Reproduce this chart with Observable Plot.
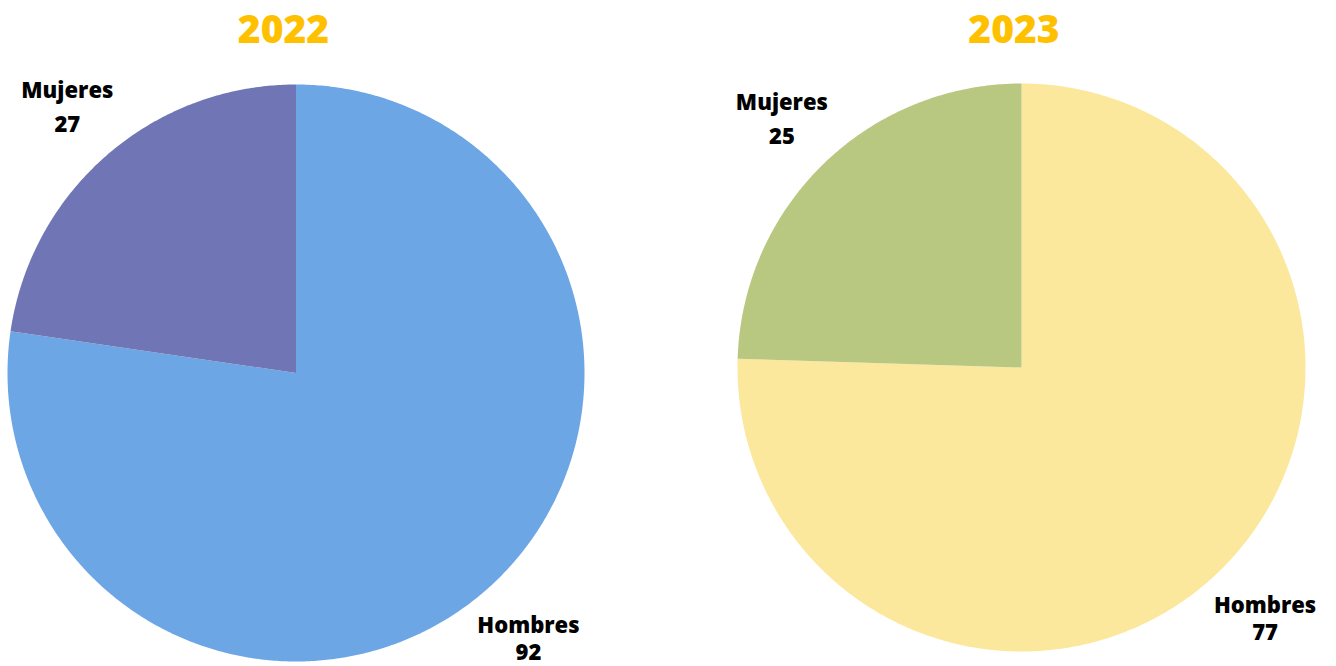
<!DOCTYPE html>
<html>
<head>
<meta charset="utf-8">
<script src="https://cdn.jsdelivr.net/npm/d3@7"></script>
<script src="https://cdn.jsdelivr.net/npm/@observablehq/plot@0.6"></script>
<style>
  body { margin: 0; background: #fff; font-family: "Open Sans", sans-serif; }
  #wrap { position: relative; width: 1336px; height: 666px; overflow: hidden; }
  .title { position: absolute; top: 1px; font-family: "Open Sans", sans-serif; font-weight: 800; font-size: 39px; line-height: normal; color: #FFC000; transform: translateX(-50%); white-space: nowrap; }
  .panel { position: absolute; top: 0; }
</style>
</head>
<body>
<div id="wrap"></div>
<script>
// ---- data ----
const years = ["2022", "2023"];
const categories = ["Hombres", "Mujeres"];
const values2022 = [92, 27];
const values2023 = [77, 25];

// ---- styles ----
const colors2022 = ["#6CA6E4", "#7076B5"];
const colors2023 = ["#FBE89C", "#B9C880"];

const wrap = document.getElementById("wrap");

function slices(values) {
  const arcs = d3.pie().sort(null).startAngle(0).endAngle(2 * Math.PI)(values);
  const pts = [];
  const labels = [];
  arcs.forEach((a, i) => {
    const cat = categories[i];
    pts.push({cat, x: 0, y: 0});
    const n = Math.max(2, Math.ceil((a.endAngle - a.startAngle) / (Math.PI / 360)));
    for (let k = 0; k <= n; k++) {
      const t = a.startAngle + (a.endAngle - a.startAngle) * k / n;
      pts.push({cat, x: Math.sin(t), y: Math.cos(t)});
    }
    const mid = (a.startAngle + a.endAngle) / 2;
    labels.push({cat, value: values[i], sx: Math.sin(mid), sy: Math.cos(mid)});
  });
  return {pts, labels};
}

function piePanel(values, colors, m, hombresDy) {
  const {pts, labels} = slices(values);
  const textOpts = {
    text: d => `${d.cat}\n${d.value}`,
    fontSize: 22, fontWeight: 800, fontFamily: "Open Sans, sans-serif",
    fill: "#000", textAnchor: "middle", lineAnchor: "middle"
  };
  return Plot.plot({
    width: 668, height: 666,
    marginLeft: m.left, marginRight: m.right, marginTop: m.top, marginBottom: m.bottom,
    x: {domain: [-1, 1], axis: null},
    y: {domain: [-1, 1], axis: null},
    color: {domain: categories, range: colors},
    style: {background: "transparent", overflow: "visible"},
    marks: [
      Plot.line(pts, {x: "x", y: "y", z: "cat", fill: "cat", stroke: "none", curve: "linear-closed"}),
      Plot.text(labels.filter(d => d.cat === "Mujeres"), {
        ...textOpts, x: d => d.sx * 1.212, y: d => d.sy * 1.212, lineHeight: 1.52, dy: -4
      }),
      Plot.text(labels.filter(d => d.cat === "Hombres"), {
        ...textOpts, x: d => d.sx * 1.232, y: d => d.sy * 1.232, lineHeight: 1.25, dy: hombresDy
      })
    ]
  });
}

const p1 = piePanel(values2022, colors2022, {left: 7, right: 84, top: 84, bottom: 5}, -4);
p1.classList.add("panel"); p1.style.left = "0px";
const p2 = piePanel(values2023, colors2023, {left: 69, right: 31, top: 83, bottom: 15}, -1);
p2.classList.add("panel"); p2.style.left = "668px";
wrap.appendChild(p1);
wrap.appendChild(p2);

[[years[0], 283.5], [years[1], 1014]].forEach(([t, cx]) => {
  const d = document.createElement("div");
  d.className = "title";
  d.textContent = t;
  d.style.left = cx + "px";
  wrap.appendChild(d);
});
</script>
</body>
</html>
